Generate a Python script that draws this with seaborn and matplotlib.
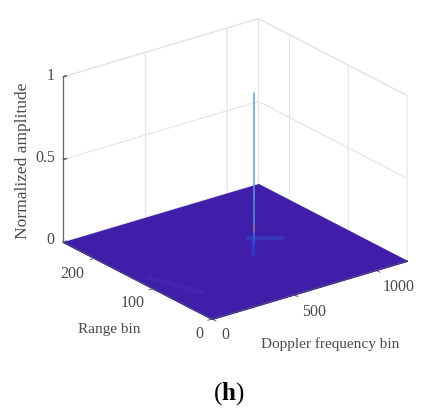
import numpy as np
import seaborn as sns
import matplotlib.pyplot as plt
from mpl_toolkits.mplot3d import proj3d

# values
doppler_bins = [0, 1190]
range_bins = [0, 253]
floor_amp = [[0, 0], [0, 0]]

doppler_ticks = [0, 500, 1000]
range_ticks = [0, 100, 200]
amp_ticks = [0, 0.5, 1]
amp_labels = ['0', '0.5', '1']

peak_doppler = 717
peak_range = 128
peak_levels = [0, 0.04, 0.08, 0.13, 0.3, 0.92]
peak_colors = ['#2a4fd8', '#3a6fc8', '#8a7f90', '#3fa0c8', '#5a9cf0']

ridge_a_doppler = [747, 878]
ridge_a_range = [147, 125]
ridge_b_doppler = [638, 751]
ridge_b_range = [108, 139]
ridge_c_doppler = [63, 160]
ridge_c_range = [128, 60]

sns.set_theme(style="white", rc={'xtick.bottom': True, 'ytick.left': True})
plt.rcParams['font.family'] = ['Liberation Serif', 'DejaVu Serif']
plt.rcParams['mathtext.fontset'] = 'custom'
plt.rcParams['mathtext.rm'] = 'Liberation Serif'
plt.rcParams['mathtext.bf'] = 'Liberation Serif:bold'

txt = '#4a4a4a'
fig = plt.figure(figsize=(4.21, 4.16), dpi=100)
ax = fig.add_axes([0.1, 0.1, 0.8, 0.8], projection='3d', computed_zorder=False)
ax.set_proj_type('ortho')
ax.view_init(elev=23.1, azim=-127.2)
ax.set_box_aspect((245, 246, 180))
ax.set_xlim(doppler_bins)
ax.set_ylim(range_bins)
ax.set_zlim(0, 1)
ax.patch.set_alpha(0)

X, Y = np.meshgrid(doppler_bins, range_bins)
ax.plot_surface(X, Y, np.array(floor_amp), color='#3f1fa9', shade=False, zorder=2, linewidth=0.8, edgecolor='#3f1fa9')

ax.plot(ridge_a_doppler, ridge_a_range, [0, 0], color='#3a38be', lw=3, alpha=0.9, zorder=3)
ax.plot(ridge_b_doppler, ridge_b_range, [0, 0], color='#3534c0', lw=3, alpha=0.9, zorder=3)
ax.plot(ridge_c_doppler, ridge_c_range, [0, 0], color='#4226b0', lw=3, zorder=3)
for i, c in enumerate(peak_colors):
    ax.plot([peak_doppler, peak_doppler], [peak_range, peak_range], peak_levels[i:i + 2], color=c, lw=1.1, zorder=4)

# mplot3d hides the floor ticks under the surface, so draw them outward by hand
for v in doppler_ticks:
    ax.plot([v, v], [0, -7], [0, 0], color='#666666', lw=0.7, zorder=1)
for v in range_ticks:
    ax.plot([0, -26], [v, v], [0, 0], color='#666666', lw=0.7, zorder=1)
ax.plot(doppler_bins, [0, 0], [0, 0], color='#55506e', lw=0.6, zorder=3)
ax.plot([0, 0], range_bins, [0, 0], color='#55506e', lw=0.6, zorder=3)

ax.set_xticks(doppler_ticks)
ax.set_yticks(range_ticks)
ax.set_zticks(amp_ticks)
ax.set_xticklabels([])
ax.set_yticklabels([])
ax.set_zticklabels([])
ax.tick_params(colors='#666666', width=0.7)

for axis in (ax.xaxis, ax.yaxis, ax.zaxis):
    axis.set_pane_color((1, 1, 1, 1))
    axis.pane.set_edgecolor('#e2e2e2')
    axis.pane.set_linewidth(0.8)
    axis._axinfo['grid'].update(color='#e4e4e4', linewidth=0.8)
    axis._axinfo['tick'].update(inward_factor=0, outward_factor=0.2)
ax.xaxis.line.set_color('#3f1fa9')
ax.yaxis.line.set_color('#3f1fa9')
ax.zaxis.line.set_color('#666666')
ax.zaxis.line.set_linewidth(0.9)
ax.grid(True)


def corner(x, y, z):
    # pixel position of a data point
    px, py, _ = proj3d.proj_transform(x, y, z, ax.get_proj())
    return ax.transData.transform((px, py))


# fit the box onto the reference corners: front (212,319), right (407,261)
H = 416
W = 421
ax.set_xlim(doppler_bins)
ax.set_ylim(range_bins)
for _ in range(3):
    fig.canvas.draw()
    a = corner(0, 0, 0)
    b = corner(doppler_bins[1], 0, 0)
    scale = 195 / (b[0] - a[0])
    pos = ax.get_position(original=True)
    ax.set_position([pos.x0, pos.y0, pos.width * scale, pos.height * scale])
    fig.canvas.draw()
    a = corner(0, 0, 0)
    pos = ax.get_position(original=True)
    ax.set_position([pos.x0 + (212 - a[0]) / W, pos.y0 + (H - 319 - a[1]) / H, pos.width, pos.height])
fig.canvas.draw()


def tick_text(point, dx, dy, label):
    # tick label placed in pixels from its tick, mplot3d only pads along the tick direction
    p = corner(*point)
    fig.text((p[0] + dx) / W, (p[1] + dy) / H, label, ha='center', va='center', fontsize=11.5, color=txt)


for v, dx, dy in zip(doppler_ticks, [13, 20, 23], [-16, -17, -17]):
    tick_text((v, 0, 0), dx, dy, str(v))
for v, dx, dy in zip(range_ticks, [-13, -21, -22], [-15, -14, -16]):
    tick_text((0, v, 0), dx, dy, str(v))
for v, lab, dx, dy in zip(amp_ticks, amp_labels, [-13, -18, -13], [2, 1, 1]):
    tick_text((0, range_bins[1], v), dx, dy, lab)

fig.text(23 / W, 1 - 161 / H, 'Normalized amplitude', rotation=90, ha='center', va='center', fontsize=12.6, color=txt)
fig.text(109 / W, 1 - 329 / H, 'Range bin', ha='center', va='center', fontsize=11, color=txt)
fig.text(330 / W, 1 - 344 / H, 'Doppler frequency bin', ha='center', va='center', fontsize=11, color=txt)
fig.text(229 / W, 1 - 394 / H, r'($\mathbf{h}$)', ha='center', va='center', fontsize=18, color='black')

fig.savefig('out.png', dpi=100)
